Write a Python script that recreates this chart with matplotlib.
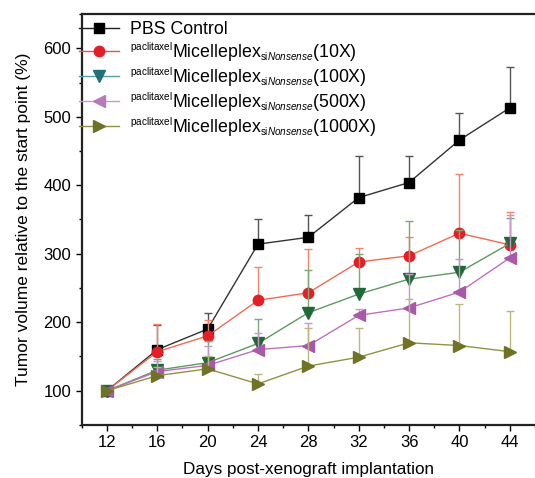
import matplotlib
matplotlib.use('Agg')
import matplotlib.pyplot as plt
import matplotlib._mathtext as mt
from matplotlib.lines import Line2D
from matplotlib.ticker import MultipleLocator

plt.rcParams['font.family'] = ['Liberation Sans', 'DejaVu Sans']
plt.rcParams['mathtext.fontset'] = 'custom'
plt.rcParams['mathtext.rm'] = 'Liberation Sans'
plt.rcParams['mathtext.it'] = 'Liberation Sans:italic'
plt.rcParams['mathtext.bf'] = 'Liberation Sans:bold'
# the super/subscripts in the original are smaller than mathtext's default
mt.SHRINK_FACTOR = 0.56

# Data
days = [12, 16, 20, 24, 28, 32, 36, 40, 44]

pbs = [100, 160, 190, 314, 324, 382, 404, 466, 513]
pbs_top = [100, 196, 214, 350, 357, 442, 442, 505, 572]

x10 = [100, 157, 180, 232, 243, 288, 297, 330, 313]
x10_top = [100, 198, 204, 281, 307, 309, 325, 417, 361]

x100 = [100, 130, 141, 169, 214, 241, 263, 273, 315]
x100_top = [100, 146, 173, 205, 277, 300, 348, 335, 352]

x500 = [100, 128, 137, 160, 166, 210, 221, 244, 294]
x500_top = [100, 143, 165, 184, 199, 220, 270, 292, 357]

x1000 = [100, 122, 132, 110, 136, 149, 170, 166, 157]
x1000_top = [100, 135, 150, 124, 192, 192, 234, 226, 216]

labels = [
    'PBS Control',
    r'$^{\mathrm{paclitaxel}}$Micelleplex$_{\mathrm{si}\mathit{Nonsense}}$(10X)',
    r'$^{\mathrm{paclitaxel}}$Micelleplex$_{\mathrm{si}\mathit{Nonsense}}$(100X)',
    r'$^{\mathrm{paclitaxel}}$Micelleplex$_{\mathrm{si}\mathit{Nonsense}}$(500X)',
    r'$^{\mathrm{paclitaxel}}$Micelleplex$_{\mathrm{si}\mathit{Nonsense}}$(1000X)',
]

# (values, tops, marker, marker colour, line colour, errorbar colour, size)
series = [
    (pbs, pbs_top, 's', '#000000', '#333333', '#555555', 7),
    (x10, x10_top, 'o', '#e41e26', '#f26b4f', '#f4846a', 7.5),
    (x100, x100_top, 'v', '#23683a', '#5d9a5d', '#7aa87a', 8),
    (x500, x500_top, '<', '#a85aa8', '#c070c0', '#c898c8', 8),
    (x1000, x1000_top, '>', '#6f7328', '#8f9440', '#b8b880', 8),
]

# legend colours look a bit different from the plotted ones
legend_cols = [
    ('#000000', '#222222'),
    ('#e41e26', '#f0503c'),
    ('#21707a', '#5a9ea6'),
    ('#b77ab8', '#c89ac8'),
    ('#6f7328', '#8e9246'),
]

fig = plt.figure(figsize=(5.35, 4.78), dpi=100)
ax = fig.add_axes([0.1527, 0.1109, 0.8473, 0.8598])

for vals, tops, mk, mc, lc, ec, ms in series:
    up = [t - v for t, v in zip(tops, vals)]
    down = [0] * len(vals)
    ax.errorbar(days, vals, yerr=[down, up], fmt='none', ecolor=ec,
                elinewidth=1.0, capsize=3, capthick=1.0)
    ax.plot(days, vals, color=lc, lw=1.0, marker=mk, markersize=ms,
            markerfacecolor=mc, markeredgecolor=mc)

handles = []
for (vals, tops, mk, mc, lc, ec, ms), (hm, hl) in zip(series, legend_cols):
    handles.append(Line2D([], [], color=hl, lw=1.0, marker=mk, markersize=ms,
                          markerfacecolor=hm, markeredgecolor=hm))

ax.legend(handles, labels, loc='upper left', bbox_to_anchor=(-0.005, 0.982),
          frameon=False, fontsize=12.8, handlelength=2.25, handletextpad=0.6,
          labelspacing=0.08, borderpad=0.0, borderaxespad=0.0)

ax.set_xlim(10, 46)
ax.set_ylim(50, 650)
ax.set_xticks(days)
ax.xaxis.set_minor_locator(MultipleLocator(2))
ax.set_yticks([100, 200, 300, 400, 500, 600])
ax.yaxis.set_minor_locator(MultipleLocator(50))
ax.tick_params(axis='both', which='major', direction='out', length=4,
               width=1.0, labelsize=12, top=False, right=False)
ax.tick_params(axis='both', which='minor', direction='out', length=2.5,
               width=1.0, top=False, right=False)

ax.spines['right'].set_visible(False)
for s in ['left', 'bottom', 'top']:
    ax.spines[s].set_linewidth(1.6)
    ax.spines[s].set_color('#222222')

ax.set_xlabel('Days post-xenograft implantation', fontsize=12.3, labelpad=8)
ax.set_ylabel('Tumor volume relative to the start point (%)', fontsize=12.5,
              labelpad=9)

fig.savefig('out.png', dpi=100)
